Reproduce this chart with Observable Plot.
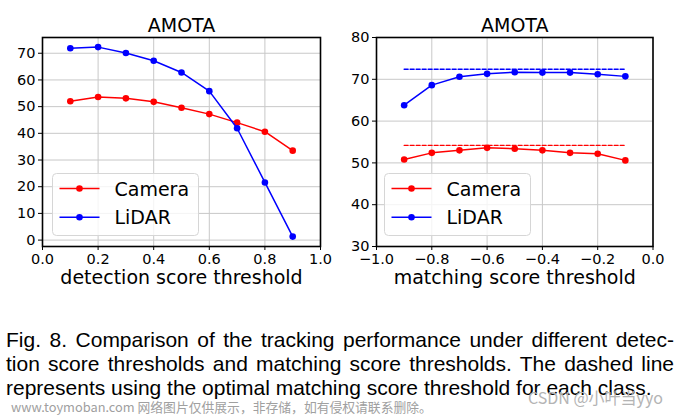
<!DOCTYPE html>
<html>
<head>
<meta charset="utf-8">
<script src="https://cdn.jsdelivr.net/npm/d3@7"></script>
<script src="https://cdn.jsdelivr.net/npm/@observablehq/plot@0.6"></script>
<style>
  html, body { margin: 0; padding: 0; background: #fff; }
  #root { position: relative; width: 690px; height: 416px; overflow: hidden; }
  .panel { position: absolute; top: 0; }
  .legend { position: absolute; }
  .cap { position: absolute; left: 6px; width: 668px; font-family: "Liberation Sans", Arial, sans-serif;
         font-size: 21px; line-height: 24px; white-space: nowrap; color: #000; text-align: justify; text-align-last: justify; }
  .cap.last { text-align-last: left; }
  .wm { position: absolute; font-family: "Noto Sans CJK SC", "DejaVu Sans", sans-serif; color: #a0a0a0; white-space: nowrap; }
</style>
</head>
<body>
<div id="root"></div>
<script>
// ---- data ----
const detThresholds = [0.1, 0.2, 0.3, 0.4, 0.5, 0.6, 0.7, 0.8, 0.9];
const detCamera = [52.0, 53.6, 53.1, 51.8, 49.6, 47.2, 44.0, 40.6, 33.5];
const detLidar  = [71.9, 72.3, 70.1, 67.2, 62.8, 55.8, 41.9, 21.6, 1.3];

const matchThresholds = [-0.9, -0.8, -0.7, -0.6, -0.5, -0.4, -0.3, -0.2, -0.1];
const matchCamera = [50.8, 52.4, 53.0, 53.6, 53.4, 53.0, 52.4, 52.2, 50.6];
const matchLidar  = [63.8, 68.6, 70.6, 71.3, 71.7, 71.6, 71.6, 71.2, 70.7];
const optimalCamera = 54.2;
const optimalLidar = 72.4;

const detXTicks = [0.0, 0.2, 0.4, 0.6, 0.8, 1.0];
const detYTicks = [0, 10, 20, 30, 40, 50, 60, 70];
const matchXTicks = [-1.0, -0.8, -0.6, -0.4, -0.2, 0.0];
const matchYTicks = [30, 40, 50, 60, 70, 80];
const seriesNames = ["Camera", "LiDAR"];
const seriesColors = ["#ff0000", "#0000ff"];
const title = "AMOTA";
const captionLines = [
  "Fig. 8. Comparison of the tracking performance under different detec-",
  "tion score thresholds and matching score thresholds. The dashed line",
  "represents using the optimal matching score threshold for each class."
];

const root = document.getElementById("root");
const fmt = d3.format(".1f");

function panel({xs, ys1, ys2, xDomain, yDomain, xTicks, yTicks, xLabel, ml, mr, left, dashed}) {
  const rows = (ys, name) => xs.map((x, i) => ({x, y: ys[i], name}));
  const cam = rows(ys1, seriesNames[0]);
  const lid = rows(ys2, seriesNames[1]);
  const marks = [
    Plot.gridX(xTicks, {stroke: "#c8c8c8", strokeOpacity: 1, strokeWidth: 1}),
    Plot.gridY(yTicks, {stroke: "#c8c8c8", strokeOpacity: 1, strokeWidth: 1}),
  ];
  if (dashed) {
    const xMin = d3.min(xs), xMax = d3.max(xs);
    marks.push(
      Plot.line([{x: xMin, y: dashed[0]}, {x: xMax, y: dashed[0]}], {x: "x", y: "y", stroke: seriesColors[0], strokeWidth: 1.4, strokeDasharray: "4,2"}),
      Plot.line([{x: xMin, y: dashed[1]}, {x: xMax, y: dashed[1]}], {x: "x", y: "y", stroke: seriesColors[1], strokeWidth: 1.4, strokeDasharray: "4,2"})
    );
  }
  marks.push(
    Plot.line(cam, {x: "x", y: "y", stroke: seriesColors[0], strokeWidth: 1.5}),
    Plot.dot(cam, {x: "x", y: "y", fill: seriesColors[0], r: 3.3}),
    Plot.line(lid, {x: "x", y: "y", stroke: seriesColors[1], strokeWidth: 1.5}),
    Plot.dot(lid, {x: "x", y: "y", fill: seriesColors[1], r: 3.3}),
    Plot.frame({stroke: "#000", strokeWidth: 1.6}),
    Plot.axisX(xTicks, {tickSize: 4, tickPadding: 3, tickFormat: fmt, fontSize: 14.5, label: null}),
    Plot.axisY(yTicks, {tickSize: 4, tickPadding: 3, tickFormat: d => String(d), fontSize: 14.5, label: null}),
    Plot.text([xLabel], {frameAnchor: "bottom", dy: 31, fontSize: 19, lineAnchor: "middle", fill: "#000"}),
    Plot.text([title], {frameAnchor: "top", dy: -12, fontSize: 19, lineAnchor: "middle", fill: "#000"})
  );
  const svg = Plot.plot({
    width: 345, height: 300,
    marginLeft: ml, marginRight: mr, marginTop: 37, marginBottom: 54,
    x: {domain: xDomain},
    y: {domain: yDomain},
    style: {fontFamily: "DejaVu Sans", color: "#000", background: "transparent", overflow: "visible"},
    marks
  });
  const wrap = document.createElement("div");
  wrap.className = "panel";
  wrap.style.left = left + "px";
  wrap.appendChild(svg);
  root.appendChild(wrap);
}

panel({xs: detThresholds, ys1: detCamera, ys2: detLidar, xDomain: [0, 1], yDomain: [-2.4, 75.9],
       xTicks: detXTicks, yTicks: detYTicks, xLabel: "detection score threshold", ml: 42, mr: 25, left: 0});
panel({xs: matchThresholds, ys1: matchCamera, ys2: matchLidar, xDomain: [-1, 0], yDomain: [30, 80],
       xTicks: matchXTicks, yTicks: matchYTicks, xLabel: "matching score threshold", ml: 31, mr: 37.5, left: 345,
       dashed: [optimalCamera, optimalLidar]});

function legend(left, top) {
  const ns = "http://www.w3.org/2000/svg";
  const svg = document.createElementNS(ns, "svg");
  svg.setAttribute("width", 148); svg.setAttribute("height", 64);
  svg.setAttribute("class", "legend");
  svg.style.left = left + "px"; svg.style.top = top + "px";
  const r = document.createElementNS(ns, "rect");
  Object.entries({x: 0.5, y: 0.5, width: 146, height: 62, rx: 4, fill: "#fff", "fill-opacity": 0.8, stroke: "#d6d6d6"}).forEach(([k, v]) => r.setAttribute(k, v));
  svg.appendChild(r);
  seriesNames.forEach((name, i) => {
    const cy = 15.5 + i * 28.7;
    const l = document.createElementNS(ns, "line");
    Object.entries({x1: 7.5, x2: 47.5, y1: cy, y2: cy, stroke: seriesColors[i], "stroke-width": 1.5}).forEach(([k, v]) => l.setAttribute(k, v));
    svg.appendChild(l);
    const c = document.createElementNS(ns, "circle");
    Object.entries({cx: 27.5, cy, r: 3.3, fill: seriesColors[i]}).forEach(([k, v]) => c.setAttribute(k, v));
    svg.appendChild(c);
    const t = document.createElementNS(ns, "text");
    Object.entries({x: 62.5, y: cy, "dominant-baseline": "central", "font-family": "DejaVu Sans", "font-size": 19, fill: "#000"}).forEach(([k, v]) => t.setAttribute(k, v));
    t.textContent = name;
    svg.appendChild(t);
  });
  root.appendChild(svg);
}
legend(52, 173);
legend(384, 173);

captionLines.forEach((line, i) => {
  const d = document.createElement("div");
  d.className = "cap" + (i === captionLines.length - 1 ? " last" : "");
  d.style.top = (328 + i * 23.8) + "px";
  d.textContent = line;
  root.appendChild(d);
});

const wm1 = document.createElement("div");
wm1.className = "wm";
wm1.style.cssText = "left:11px; top:398px; font-size:12.8px; line-height:18px;";
wm1.textContent = "www.toymoban.com 网络图片仅供展示，非存储，如有侵权请联系删除。";
root.appendChild(wm1);
const wm2 = document.createElement("div");
wm2.className = "wm";
wm2.style.cssText = "left:528px; top:387px; font-size:16px; line-height:20px; color:#b4b4b4;";
wm2.textContent = "CSDN @小叶当yyo";
root.appendChild(wm2);
</script>
</body>
</html>
